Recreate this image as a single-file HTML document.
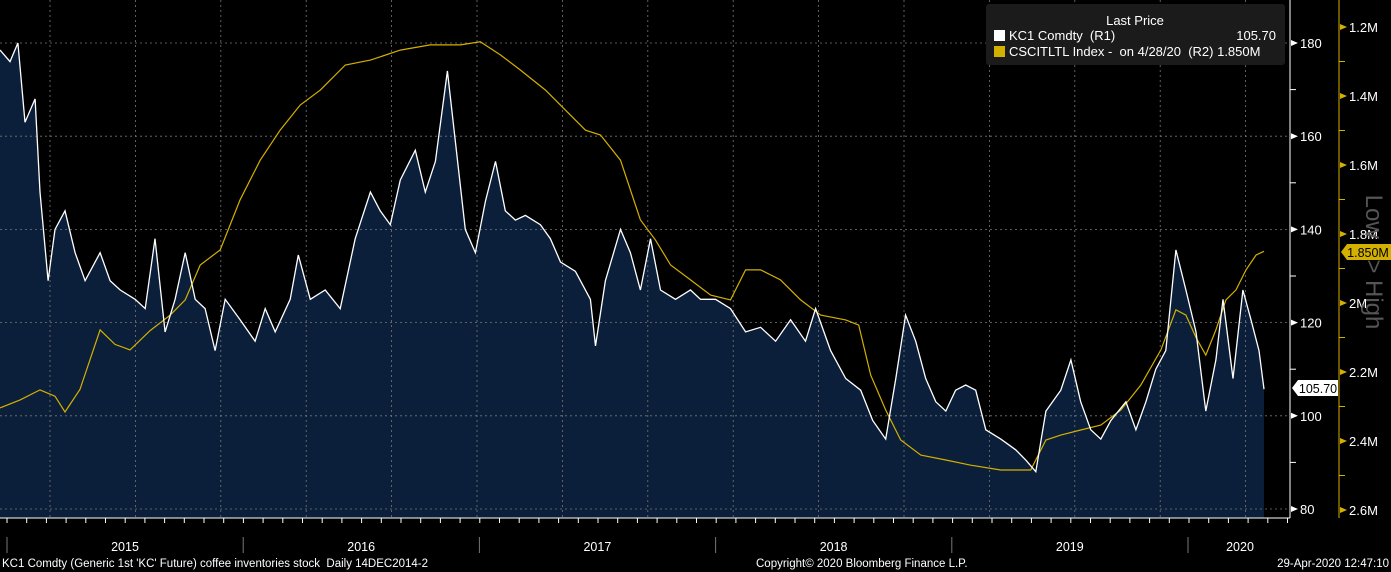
<!DOCTYPE html>
<html><head><meta charset="utf-8"><style>
body{margin:0;background:#000;width:1391px;height:572px;overflow:hidden;font-family:"Liberation Sans",sans-serif}
svg{display:block}
</style></head><body>
<svg width="1391" height="572" id="c">
<g id="grid"></g>
<path id="area" fill="#0b1f3a"/>
<g id="grid2"></g>
<path id="inv" fill="none" stroke="#d4b000" stroke-width="1.2"/>
<path id="price" fill="none" stroke="#fff" stroke-width="1.3"/>
<line x1="1290" y1="0" x2="1290" y2="518" stroke="#fff"/>
<line x1="1339" y1="0" x2="1339" y2="518" stroke="#d4b000"/>
<line x1="0" y1="518" x2="1290" y2="518" stroke="#fff"/>
<g id="axes"></g>
<g>
<rect x="986" y="4" width="299" height="61" fill="#1b1b1b" rx="3"/>
<text x="1135" y="25" fill="#fff" font-size="13" text-anchor="middle">Last Price</text>
<rect x="994" y="30" width="11" height="11" fill="#fff"/>
<text x="1009" y="40" fill="#fff" font-size="13" xml:space="preserve">KC1 Comdty  (R1)</text>
<text x="1276" y="40" fill="#fff" font-size="13" text-anchor="end">105.70</text>
<rect x="994" y="46" width="11" height="11" fill="#d4b000"/>
<text x="1009" y="56" fill="#fff" font-size="13" xml:space="preserve">CSCITLTL Index -  on 4/28/20  (R2) 1.850M</text>
</g>
<text transform="translate(1366,262) rotate(90)" fill="#555" font-size="24" text-anchor="middle">Low &lt;&gt; High</text>
<g><polygon points="1292,388 1298,380 1338,380 1338,396 1298,396" fill="#fff"/><text x="1318" y="393" font-size="12.5" text-anchor="middle" fill="#000">105.70</text></g>
<g><polygon points="1341,252 1347,244 1391,244 1391,260 1347,260" fill="#d4b000"/><text x="1368" y="257" font-size="12.5" text-anchor="middle" fill="#000">1.850M</text></g>
<text x="2" y="567" fill="#fff" font-size="11.5" xml:space="preserve">KC1 Comdty (Generic 1st 'KC' Future) coffee inventories stock  Daily 14DEC2014-2</text>
<text x="756" y="567" fill="#fff" font-size="11.5">Copyright© 2020 Bloomberg Finance L.P.</text>
<text x="1389" y="567" fill="#fff" font-size="11.5" text-anchor="end">29-Apr-2020 12:47:10</text>
</svg>
<script>
const priceMonths=[0,.51,.91,1.27,1.78,2.03,2.44,2.79,3.30,3.81,4.32,5.08,5.59,6.10,6.86,7.37,7.87,8.38,8.89,9.40,9.91,10.41,10.92,11.43,12.19,12.95,13.46,13.97,14.73,15.14,15.75,16.51,17.27,18.03,18.80,19.30,19.81,20.32,21.08,21.59,22.10,22.71,23.11,23.62,24.13,24.64,25.15,25.65,26.16,26.67,27.43,27.94,28.45,29.21,29.97,30.23,30.73,31.50,32.00,32.51,33.02,33.53,34.29,35.05,35.56,36.32,37.08,37.85,38.61,39.37,40.13,40.89,41.40,42.16,42.93,43.69,44.30,44.96,45.47,45.97,46.48,46.99,47.50,48.01,48.51,49.02,49.53,50.04,50.80,51.56,52.07,52.58,53.09,53.85,54.36,54.86,55.37,55.88,56.39,57.15,57.66,58.17,58.67,59.18,59.69,60.20,60.71,61.21,61.72,62.08,62.59,63.09,63.50,63.91,64.16];
const priceValues=[178.5,176,180,163,168,148,129,140,144,135,129,135,129,127,125,123,138,118,125,135,125,123,114,125,120.6,116,123,118,125,134.5,125,127,123,138,148,144,141,150.6,157,148,154.6,174,159,140,135,146,154.6,144,142,143,141,138,133,131,125,115,129,140,135,127,138,127,125,127,125,125,123,118,119,116,120.6,116,123,114,108,105.5,99,95,108,121.6,116,108,103,101,105.5,106.6,105.5,97,95,92.7,90.5,88,101,105.5,112,103,97,95,99,103,97,103,110,114,135.6,127,118,101,112,125,108,127,120.6,114,105.7];
const invMonths=[0,1.02,2.03,2.79,3.30,4.06,5.08,5.84,6.60,7.62,8.64,9.40,10.16,11.18,12.19,13.21,14.22,15.24,16.26,17.53,18.80,20.32,21.84,23.37,24.38,25.40,26.42,27.69,28.70,29.72,30.48,31.50,32.51,33.27,34.04,35.05,36.07,37.08,37.85,38.61,39.62,40.64,41.66,42.93,43.59,44.20,44.96,45.72,46.74,48.01,49.28,50.80,52.32,53.09,53.85,54.86,55.88,56.90,57.91,58.93,59.69,60.20,60.71,61.21,61.72,62.23,62.74,63.25,63.76,64.16];
const invValues=[2.304,2.281,2.252,2.27,2.316,2.25,2.078,2.12,2.136,2.08,2.035,1.991,1.890,1.846,1.701,1.586,1.499,1.426,1.383,1.310,1.296,1.267,1.252,1.252,1.243,1.281,1.325,1.383,1.441,1.499,1.513,1.586,1.759,1.817,1.890,1.933,1.977,1.991,1.904,1.904,1.933,1.991,2.035,2.049,2.064,2.209,2.310,2.397,2.441,2.455,2.470,2.484,2.484,2.397,2.383,2.368,2.354,2.310,2.238,2.136,2.020,2.035,2.10,2.151,2.078,1.991,1.962,1.904,1.861,1.85];
const r1Ticks=[80,100,120,140,160,180];
const r2Ticks=[1.2,1.4,1.6,1.8,2.0,2.2,2.4,2.6];
const r2Labels=["1.2M","1.4M","1.6M","1.8M","2M","2.2M","2.4M","2.6M"];
const years=["2015","2016","2017","2018","2019","2020"];
const xS=m=>m*19.7;
const y1=p=>509-(p-80)*4.66;
const y2=v=>27+(v-1.2)*345;
const NS="http://www.w3.org/2000/svg";
function mk(t,a,p){const e=document.createElementNS(NS,t);for(const k in a)e.setAttribute(k,a[k]);p.appendChild(e);return e;}
let d="";priceMonths.forEach((m,i)=>{d+=(i?"L":"M")+xS(m).toFixed(1)+","+y1(priceValues[i]).toFixed(1);});
document.getElementById("price").setAttribute("d",d);
document.getElementById("area").setAttribute("d",d+"L"+xS(priceMonths[priceMonths.length-1])+",518L0,518Z");
let d2="";invMonths.forEach((m,i)=>{d2+=(i?"L":"M")+xS(m).toFixed(1)+","+y2(invValues[i]).toFixed(1);});
document.getElementById("inv").setAttribute("d",d2);
const g=document.getElementById("grid2"),ax=document.getElementById("axes");
r1Ticks.forEach(t=>{
 const l=mk("line",{x1:0,x2:1290,y1:y1(t),y2:y1(t),stroke:"#777","stroke-dasharray":"2,3","stroke-width":0.8},g);
 
 
 mk("polygon",{points:`1291,${y1(t)-3} 1298,${y1(t)} 1291,${y1(t)+3}`,fill:"#fff"},ax);
 const tx=mk("text",{x:1300,y:y1(t)+5,fill:"#fff","font-size":13},ax);tx.textContent=t;
 
 
});
for(let t=90;t<=170;t+=20)mk("line",{x1:1290,x2:1296,y1:y1(t),y2:y1(t),stroke:"#fff"},ax);
for(let i=0;i<15;i++){const x=50+i*85.4;const l=mk("line",{x1:x,x2:x,y1:0,y2:518,stroke:"#777","stroke-dasharray":"2,3","stroke-width":0.8},g);
 
 }
r2Ticks.forEach((t,i)=>{
 mk("polygon",{points:`1340,${y2(t)-3} 1347,${y2(t)} 1340,${y2(t)+3}`,fill:"#d4b000"},ax);
 const tx=mk("text",{x:1349,y:y2(t)+5,fill:"#fff","font-size":13},ax);tx.textContent=r2Labels[i];
 
 
 if(i<r2Ticks.length-1)mk("line",{x1:1339,x2:1345,y1:y2(t+0.1),y2:y2(t+0.1),stroke:"#d4b000"},ax);
});
for(let m=0;m<=65;m++){mk("line",{x1:xS(m)+7,x2:xS(m)+7,y1:518,y2:523,stroke:"#fff"},ax);}
years.forEach((y,i)=>{
 const x0=7+i*236.2;
 mk("line",{x1:x0,x2:x0,y1:537,y2:553,stroke:"#777"},ax);
 const cx=(i===years.length-1)?1240:x0+118;
 const tx=mk("text",{x:cx,y:551,fill:"#fff","font-size":12.5,"text-anchor":"middle"},ax);tx.textContent=y;
 
 
});
</script>
</body></html>
